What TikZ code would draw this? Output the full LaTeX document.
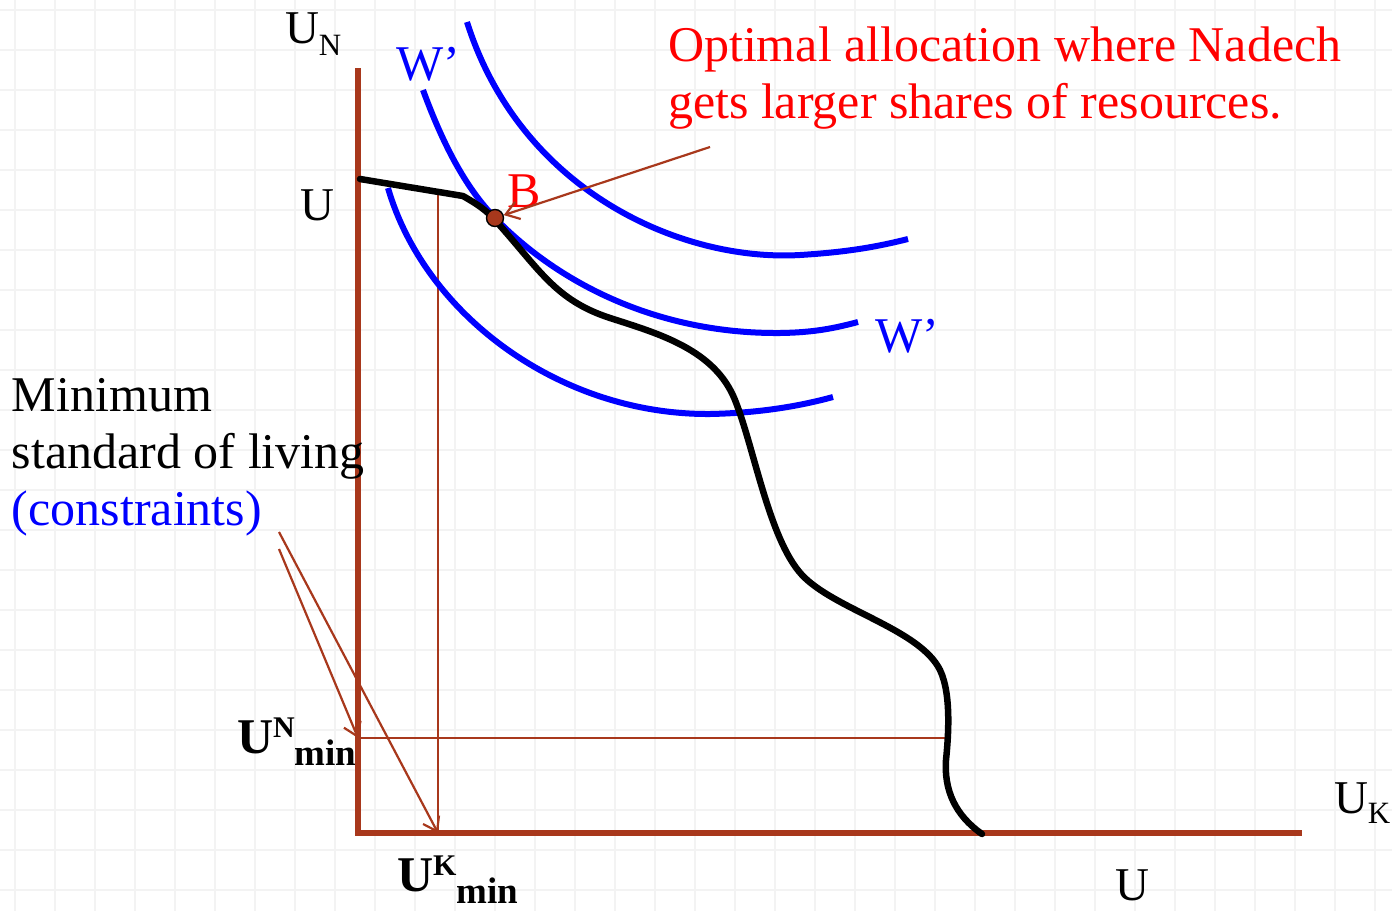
\documentclass[tikz,border=0pt]{standalone}
\usepackage{fontspec}
\setmainfont{Liberation Serif}
\usetikzlibrary{arrows.meta}
\definecolor{brn}{RGB}{168,56,28}
\definecolor{gridc}{RGB}{243,243,243}
\definecolor{myblue}{RGB}{0,0,255}
\definecolor{myred}{RGB}{255,0,0}
\tikzset{
  txt/.style={inner sep=0pt, outer sep=0pt, anchor=base west, font=\fontsize{50}{57}\selectfont},
  lbl/.style={inner sep=0pt, outer sep=0pt, anchor=base west, font=\fontsize{47}{57}\selectfont},
  bold/.style={inner sep=0pt, outer sep=0pt, anchor=base west, font=\bfseries\fontsize{50}{57}\selectfont},
  axis/.style={brn, line width=6pt},
  guide/.style={brn, line width=2.6pt},
  icurve/.style={myblue, line width=6pt},
  frontier/.style={black, line width=6.5pt, line cap=round, line join=round},
  pointer/.style={brn, line width=2.2pt, -{Straight Barb[length=13pt,width=18pt,line width=2.2pt]}},
}
\begin{document}
\begin{tikzpicture}[x=1pt,y=-1pt]
\useasboundingbox (0,0) rectangle (1392,911);
\fill[white] (0,0) rectangle (1392,911);
% grid
\foreach \gx in {15,55,...,1392} \draw[gridc, line width=1.8pt] (\gx,0) -- (\gx,911);
\foreach \gy in {10,50,...,911} \draw[gridc, line width=1.8pt] (0,\gy) -- (1392,\gy);

% coordinates
\coordinate (O) at (358,833);
\coordinate (ytop) at (358,68);
\coordinate (xend) at (1302,833);
\coordinate (kmin) at (438,833);
\coordinate (ktop) at (438,195);
\coordinate (nmin) at (358,738);
\coordinate (nend) at (948,738);

% guides
\draw[guide] (kmin) -- (ktop);
\draw[guide] (nmin) -- (nend);

% axes
\draw[axis] (ytop) -- (O) -- (xend);

% indifference curves
\draw[icurve] (467,22) .. controls (520,190) and (680,262) .. (800,255)
   .. controls (850,252) and (880,246) .. (908,239);
\draw[icurve] (423,90) .. controls (445,150) and (468,190) .. (495,218)
   .. controls (560,285) and (660,334) .. (780,333)
   .. controls (815,332.5) and (835,328) .. (858,322);
\draw[icurve] (388,188) .. controls (425,315) and (560,415) .. (710,414)
   .. controls (760,413) and (800,406) .. (833,397);

% utility possibility frontier
\draw[frontier] (360,179) -- (463,196)
   .. controls (477,204) and (486,210) .. (495,220)
   .. controls (540,270) and (555,300) .. (610,318)
   .. controls (660,334) and (715,350) .. (735,400)
   .. controls (755,450) and (770,545) .. (805,578)
   .. controls (840,611) and (920,630) .. (940,670)
   .. controls (952,695) and (948,740) .. (946,760)
   .. controls (944,790) and (955,815) .. (982,834);

% point B
\node[circle, fill=brn, draw=black, line width=1.4pt, minimum size=17pt, inner sep=0pt] (B) at (495,218) {};
\node[txt, text=myred] (Blab) at (507,207) {B};

% labels
\node[lbl] (UN) at (285,43) {U\raisebox{-12pt}{\fontsize{31}{31}\selectfont N}};
\node[lbl] (Uy) at (300,220) {U};
\node[lbl] (UK) at (1334,813) {U\raisebox{-10pt}{\fontsize{31}{31}\selectfont K}};
\node[lbl] (Ux) at (1115,900) {U};
\node[txt, text=myblue] (W1) at (396,80) {W’};
\node[txt, text=myblue] (W2) at (875,352) {W’};

\node[bold] (UNmin) at (237,753) {U\raisebox{16pt}{\fontsize{30}{30}\selectfont N}\raisebox{-12pt}{\fontsize{37}{37}\selectfont min}};
\node[bold] (UKmin) at (397,891) {U\raisebox{16pt}{\fontsize{30}{30}\selectfont K}\raisebox{-12pt}{\fontsize{37}{37}\selectfont min}};

\node[txt, align=left, text=myred] (opt) at (668,118) {Optimal allocation where Nadech\\gets larger shares of resources.};
\node[txt, align=left] (minstd) at (12,525) {Minimum\\standard of living\\\textcolor{myblue}{(constraints)}};

% pointers
\coordinate (optfrom) at (710,147);
\coordinate (c1) at (279,532);
\coordinate (c2) at (279,549);
\draw[pointer] (optfrom) -- (B);
\draw[pointer] (c1) -- (kmin);
\draw[pointer] (c2) -- (nmin);
\end{tikzpicture}
\end{document}
